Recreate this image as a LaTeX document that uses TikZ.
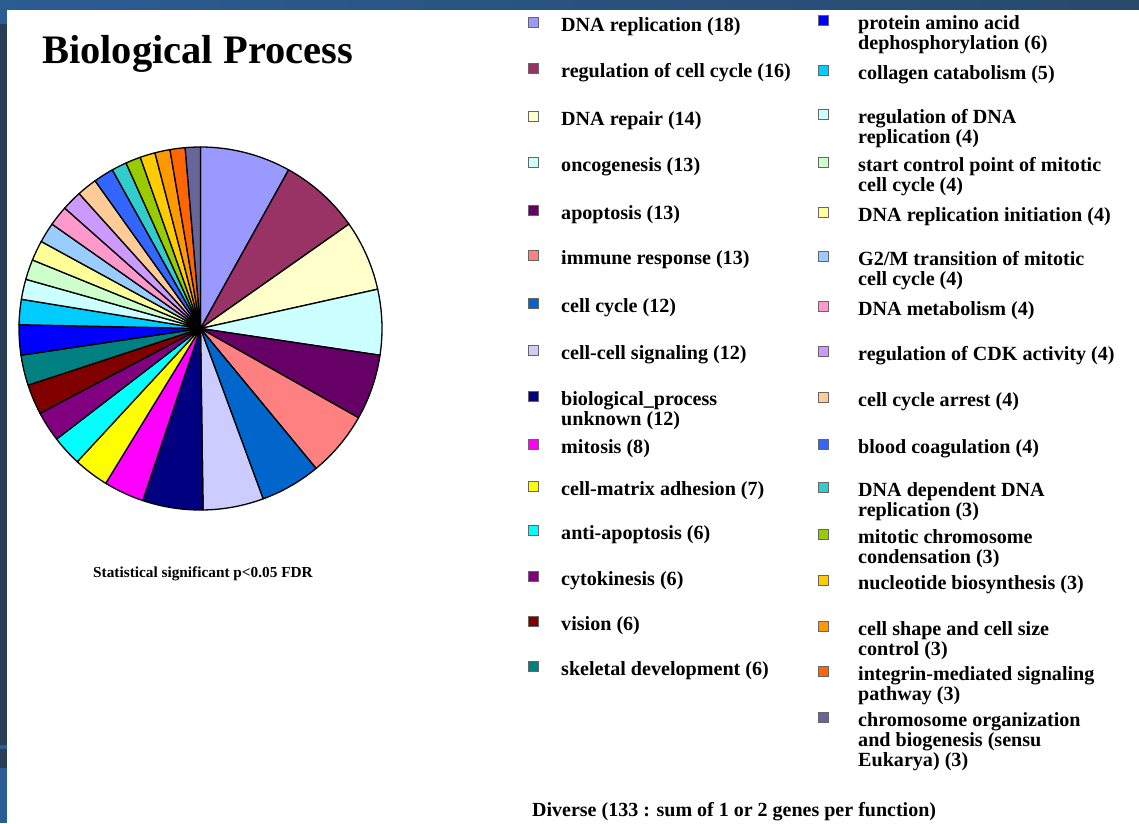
\documentclass[tikz,border=0pt]{standalone}
\usepackage{fontspec}
\setmainfont{Liberation Serif}

% slide frame
\definecolor{barL}{HTML}{2B5C92}
\definecolor{barR}{HTML}{284A6B}
\definecolor{frameDark}{HTML}{263F55}
\definecolor{frameBlue}{HTML}{2A5D95}
% category colours
\definecolor{c01}{HTML}{9999FF}
\definecolor{c02}{HTML}{993366}
\definecolor{c03}{HTML}{FFFFCC}
\definecolor{c04}{HTML}{CCFFFF}
\definecolor{c05}{HTML}{660066}
\definecolor{c06}{HTML}{FF8080}
\definecolor{c07}{HTML}{0066CC}
\definecolor{c08}{HTML}{CCCCFF}
\definecolor{c09}{HTML}{000080}
\definecolor{c10}{HTML}{FF00FF}
\definecolor{c11}{HTML}{FFFF00}
\definecolor{c12}{HTML}{00FFFF}
\definecolor{c13}{HTML}{800080}
\definecolor{c14}{HTML}{800000}
\definecolor{c15}{HTML}{008080}
\definecolor{c16}{HTML}{0000FF}
\definecolor{c17}{HTML}{00CCFF}
\definecolor{c18}{HTML}{CCFFFF}
\definecolor{c19}{HTML}{CCFFCC}
\definecolor{c20}{HTML}{FFFF99}
\definecolor{c21}{HTML}{99CCFF}
\definecolor{c22}{HTML}{FF99CC}
\definecolor{c23}{HTML}{CC99FF}
\definecolor{c24}{HTML}{FFCC99}
\definecolor{c25}{HTML}{3366FF}
\definecolor{c26}{HTML}{33CCCC}
\definecolor{c27}{HTML}{99CC00}
\definecolor{c28}{HTML}{FFCC00}
\definecolor{c29}{HTML}{FF9900}
\definecolor{c30}{HTML}{FF6600}
\definecolor{c31}{HTML}{666699}

% one legend item: name, key x, text x, baseline y, colour, text
\newcommand\legitem[6]{%
  \node[keybox, fill=#5] (#1-key) at (#2, #4-9) {};
  \node[entry] (#1) at (#3, #4) {\parbox[t]{275pt}{\raggedright #6}};
}

\begin{document}
\begin{tikzpicture}[x=1pt, y=-1pt,
  slice/.style={draw=black, line width=1.3pt, line join=round},
  keybox/.style={draw=black!60, line width=0.6pt, minimum size=10pt, inner sep=0pt},
  entry/.style={anchor=base west, inner sep=0pt, font=\fontsize{20.1}{20.3}\selectfont\bfseries},
  caption/.style={anchor=base west, inner sep=0pt}]

\useasboundingbox (0,0) rectangle (1139,823);
\fill[white] (0,0) rectangle (1139,823);

% frame of the slide
\shade[left color=barL, right color=barR] (0,0) rectangle (1139,9);
\fill[frameDark] (0,9) rectangle (7,823);
\fill[frameBlue] (0,9) rectangle (7,24);
\fill[frameBlue] (0,745) rectangle (7,749);
\fill[frameBlue] (0,768) rectangle (7,823);

% title and notes
\node[caption, font=\fontsize{40.5}{48}\selectfont\bfseries] (title) at (42,63) {Biological Process};
\node[caption, font=\fontsize{15.3}{18}\selectfont\bfseries] (note) at (93,577) {Statistical significant p<0.05 FDR};
\node[caption, font=\fontsize{20}{24}\selectfont\bfseries] (diverse) at (532,816) {Diverse (133 : sum of 1 or 2 genes per function)};

% pie chart, clockwise from 12 o'clock, total 223
\coordinate (pc) at (200.5,328.5);
\def\pr{181.5}
\gdef\cumsum{0}
\foreach \v/\c in {18/c01,16/c02,14/c03,13/c04,13/c05,13/c06,12/c07,12/c08,12/c09,
                   8/c10,7/c11,6/c12,6/c13,6/c14,6/c15,6/c16,5/c17,4/c18,4/c19,4/c20,
                   4/c21,4/c22,4/c23,4/c24,4/c25,3/c26,3/c27,3/c28,3/c29,3/c30,3/c31}{
  \pgfmathsetmacro\aS{-90+\cumsum/223*360}
  \pgfmathsetmacro\aE{-90+(\cumsum+\v)/223*360}
  \draw[slice, fill=\c] (pc) -- ++(\aS:\pr) arc[start angle=\aS, end angle=\aE, radius=\pr] -- cycle;
  \pgfmathsetmacro\tmp{\cumsum+\v}
  \xdef\cumsum{\tmp}
}

% legend, left column
\legitem{l01}{533.5}{561}{31.5}{c01}{DNA replication (18)}
\legitem{l02}{533.5}{561}{77.5}{c02}{regulation of cell cycle (16)}
\legitem{l03}{533.5}{561}{125.5}{c03}{DNA repair (14)}
\legitem{l04}{533.5}{561}{171.5}{c04}{oncogenesis (13)}
\legitem{l05}{533.5}{561}{219}{c05}{apoptosis (13)}
\legitem{l06}{533.5}{561}{264}{c06}{immune response (13)}
\legitem{l07}{533.5}{561}{312}{c07}{cell cycle (12)}
\legitem{l08}{533.5}{561}{359.5}{c08}{cell-cell signaling (12)}
\legitem{l09}{533.5}{561}{405.5}{c09}{biological\_process\\unknown (12)}
\legitem{l10}{533.5}{561}{453}{c10}{mitosis (8)}
\legitem{l11}{533.5}{561}{495}{c11}{cell-matrix adhesion (7)}
\legitem{l12}{533.5}{561}{539}{c12}{anti-apoptosis (6)}
\legitem{l13}{533.5}{561}{585.5}{c13}{cytokinesis (6)}
\legitem{l14}{533.5}{561}{630.5}{c14}{vision (6)}
\legitem{l15}{533.5}{561}{675.5}{c15}{skeletal development (6)}

% legend, right column
\legitem{r01}{823.5}{858}{29.5}{c16}{protein amino acid\\dephosphorylation (6)}
\legitem{r02}{823.5}{858}{79.5}{c17}{collagen catabolism (5)}
\legitem{r03}{823.5}{858}{123}{c18}{regulation of DNA\\replication (4)}
\legitem{r04}{823.5}{858}{171.5}{c19}{start control point of mitotic\\cell cycle (4)}
\legitem{r05}{823.5}{858}{221}{c20}{DNA replication initiation (4)}
\legitem{r06}{823.5}{858}{265.5}{c21}{G2/M transition of mitotic\\cell cycle (4)}
\legitem{r07}{823.5}{858}{315}{c22}{DNA metabolism (4)}
\legitem{r08}{823.5}{858}{360.5}{c23}{regulation of CDK activity (4)}
\legitem{r09}{823.5}{858}{406}{c24}{cell cycle arrest (4)}
\legitem{r10}{823.5}{858}{453}{c25}{blood coagulation (4)}
\legitem{r11}{823.5}{858}{496.5}{c26}{DNA dependent DNA\\replication (3)}
\legitem{r12}{823.5}{858}{543.5}{c27}{mitotic chromosome\\condensation (3)}
\legitem{r13}{823.5}{858}{589}{c28}{nucleotide biosynthesis (3)}
\legitem{r14}{823.5}{858}{635.5}{c29}{cell shape and cell size\\control (3)}
\legitem{r15}{823.5}{858}{680.5}{c30}{integrin-mediated signaling\\pathway (3)}
\legitem{r16}{823.5}{858}{726}{c31}{chromosome organization\\and biogenesis (sensu\\Eukarya) (3)}

\end{tikzpicture}
\end{document}
